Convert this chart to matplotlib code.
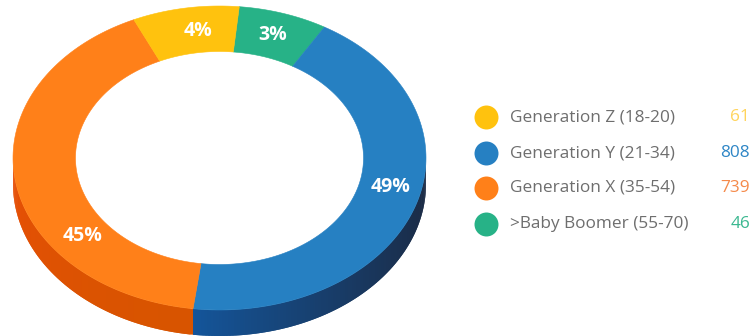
import numpy as np
from matplotlib import pyplot as plt
from matplotlib import colors as mcolors

# Respondents per generation
generations = ["Generation Z (18-20)", "Generation Y (21-34)", "Generation X (35-54)", ">Baby Boomer (55-70)"]
counts = [61, 808, 739, 46]
top_colors = ["#ffc20e", "#2680c2", "#ff8019", "#27b287"]
# side wall shading, start and end of each slice going clockwise
side_colors = [("#d99a00", "#d99a00"), ("#1b2b45", "#14559a"), ("#d85400", "#e84e06"), ("#1a8a68", "#1a8a68")]
count_colors = ["#ffd45c", "#2e86c6", "#f58a4a", "#3bb890"]

# Ring drawn clockwise from the top in this order
ring_order = [3, 1, 2, 0]
START_ANGLE = 5.5
COMPRESS = 0.64  # small groups would be slivers with a linear sweep

CX, CY = 219.5, 158.0
RX, RY = 206.5, 152.0
IN_RX, IN_RY = 144.0, 106.5
DEPTH = 26.0

plt.rcParams["font.family"] = ["Open Sans", "DejaVu Sans"]


def ellipse_pts(angles, rx, ry):
    rad = np.radians(angles)
    return CX + rx * np.sin(rad), CY - ry * np.cos(rad)


def draw_side(a0, a1, c0, c1):
    # only the front half of the rim is visible
    a0 = max(a0, 90.0)
    a1 = min(a1, 270.0)
    if a1 <= a0:
        return
    steps = np.linspace(a0, a1, 120)
    c0 = np.array(mcolors.to_rgb(c0))
    c1 = np.array(mcolors.to_rgb(c1))
    for i in range(len(steps) - 1):
        t = (i / (len(steps) - 2)) ** 1.6
        # each quad runs over the next one so no seams show
        x, y = ellipse_pts(steps[i:i + 3], RX, RY)
        col = c0 + (c1 - c0) * t
        ax.fill(np.concatenate([x, x[::-1]]), np.concatenate([y, y[::-1] + DEPTH]),
                facecolor=col, edgecolor="none", zorder=1)


fig = plt.figure(figsize=(7.53, 3.36), dpi=100)
ax = fig.add_axes([0, 0, 1, 1])
ax.set_xlim(0, 753)
ax.set_ylim(336, 0)
ax.axis("off")

weights = np.array(counts, dtype=float) ** COMPRESS
sweeps = weights / weights.sum() * 360.0

angle = START_ANGLE
for idx in ring_order:
    end = angle + sweeps[idx]
    draw_side(angle, end, side_colors[idx][0], side_colors[idx][1])
    steps = np.linspace(angle, end, 120)
    ox, oy = ellipse_pts(steps, RX, RY)
    ix, iy = ellipse_pts(steps[::-1], IN_RX, IN_RY)
    ax.fill(np.concatenate([ox, ix]), np.concatenate([oy, iy]),
            color=top_colors[idx], lw=0.4, zorder=2)
    angle = end

# Percent labels on the ring
total = sum(counts)
label_pos = [(198, 31), (391, 187), (83, 236), (273, 35)]
for idx in range(len(counts)):
    pct = "%d%%" % round(100.0 * counts[idx] / total)
    ax.text(label_pos[idx][0], label_pos[idx][1], pct, color="white", fontsize=14,
            fontweight="bold", ha="center", va="center", zorder=3)

# Legend
legend_y = [117, 153, 188, 224]
for idx in range(len(counts)):
    ax.scatter([486], [legend_y[idx]], s=298, color=top_colors[idx], linewidths=0, zorder=3)
    ax.text(510, legend_y[idx], generations[idx], color="#6e6e6e", fontsize=12.4,
            ha="left", va="center", zorder=3)
    ax.text(750, legend_y[idx], str(counts[idx]), color=count_colors[idx], fontsize=12.4,
            ha="right", va="center", zorder=3)

fig.savefig("out.png", dpi=100)
